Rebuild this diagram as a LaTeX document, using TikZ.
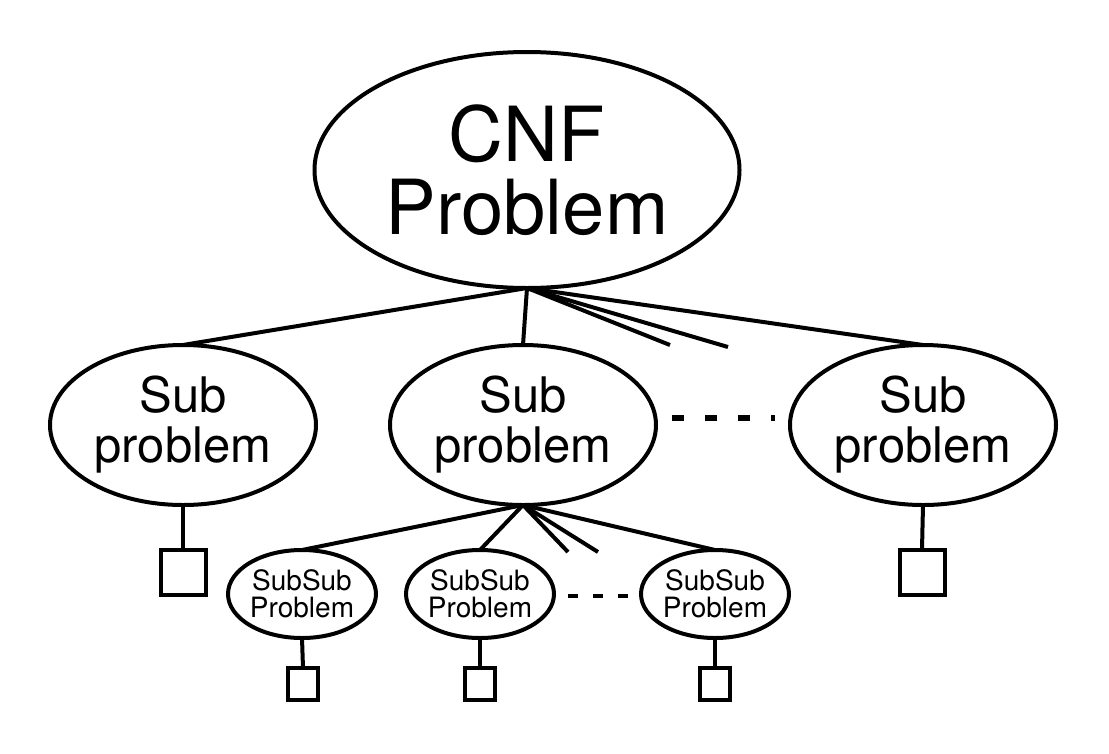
\documentclass[tikz,border=0pt]{standalone}
\usepackage{fontspec}
\setmainfont{TeX Gyre Heros}
\usetikzlibrary{shapes.geometric}
\begin{document}
\begin{tikzpicture}[x=1pt,y=-1pt,
 every node/.style={inner sep=0pt,outer sep=0pt},
 big/.style={ellipse,draw,line width=4pt,minimum width=425pt,minimum height=236pt,align=center,font=\fontsize{76}{73}\selectfont},
 mid/.style={ellipse,draw,line width=4pt,minimum width=266pt,minimum height=160pt,align=center,font=\fontsize{49}{50}\selectfont},
 small/.style={ellipse,draw,line width=4pt,minimum width=148pt,minimum height=88pt,align=center,font=\fontsize{28}{27}\selectfont},
 leaf/.style={draw,line width=4pt,minimum width=45pt,minimum height=45pt},
 sleaf/.style={draw,line width=4pt,minimum width=30pt,minimum height=32pt},
 conn/.style={line width=4pt},
 bigdots/.style={line width=6pt,dash pattern=on 12pt off 21pt},
 smalldots/.style={line width=3.5pt,dash pattern=on 10pt off 15pt}]
\useasboundingbox (0,0) rectangle (1109,753);
\node[big] (cnf) at (527,170) {CNF\\Problem};
\node[mid] (s1) at (183,425) {Sub\\problem};
\node[mid] (s2) at (523,425) {Sub\\problem};
\node[mid] (s3) at (923,425) {Sub\\problem};
\coordinate (f1) at (670,345);
\coordinate (f2) at (728,347);
\draw[conn] (cnf.south) -- (s1.north);
\draw[conn] (cnf.south) -- (s2.north);
\draw[conn] (cnf.south) -- (f1);
\draw[conn] (cnf.south) -- (f2);
\draw[conn] (cnf.south) -- (s3.north);
\coordinate (d1) at (672,418);
\coordinate (d2) at (775,418);
\draw[bigdots] (d1) -- (d2);
\node[leaf] (l1) at (183,572) {};
\node[leaf] (l3) at (922,572) {};
\draw[conn] (s1.south) -- (l1.north);
\draw[conn] (s3.south) -- (l3.north);
\node[small] (t1) at (302,594) {SubSub\\Problem};
\node[small] (t2) at (480,594) {SubSub\\Problem};
\node[small] (t3) at (715,594) {SubSub\\Problem};
\coordinate (g1) at (568,552);
\coordinate (g2) at (598,552);
\draw[conn] (s2.south) -- (t1.north);
\draw[conn] (s2.south) -- (t2.north);
\draw[conn] (s2.south) -- (g1);
\draw[conn] (s2.south) -- (g2);
\draw[conn] (s2.south) -- (t3.north);
\coordinate (e1) at (568,596);
\coordinate (e2) at (630,596);
\draw[smalldots] (e1) -- (e2);
\node[sleaf] (m1) at (303,684) {};
\node[sleaf] (m2) at (480,684) {};
\node[sleaf] (m3) at (715,684) {};
\draw[conn] (t1.south) -- (m1.north);
\draw[conn] (t2.south) -- (m2.north);
\draw[conn] (t3.south) -- (m3.north);
\end{tikzpicture}
\end{document}
